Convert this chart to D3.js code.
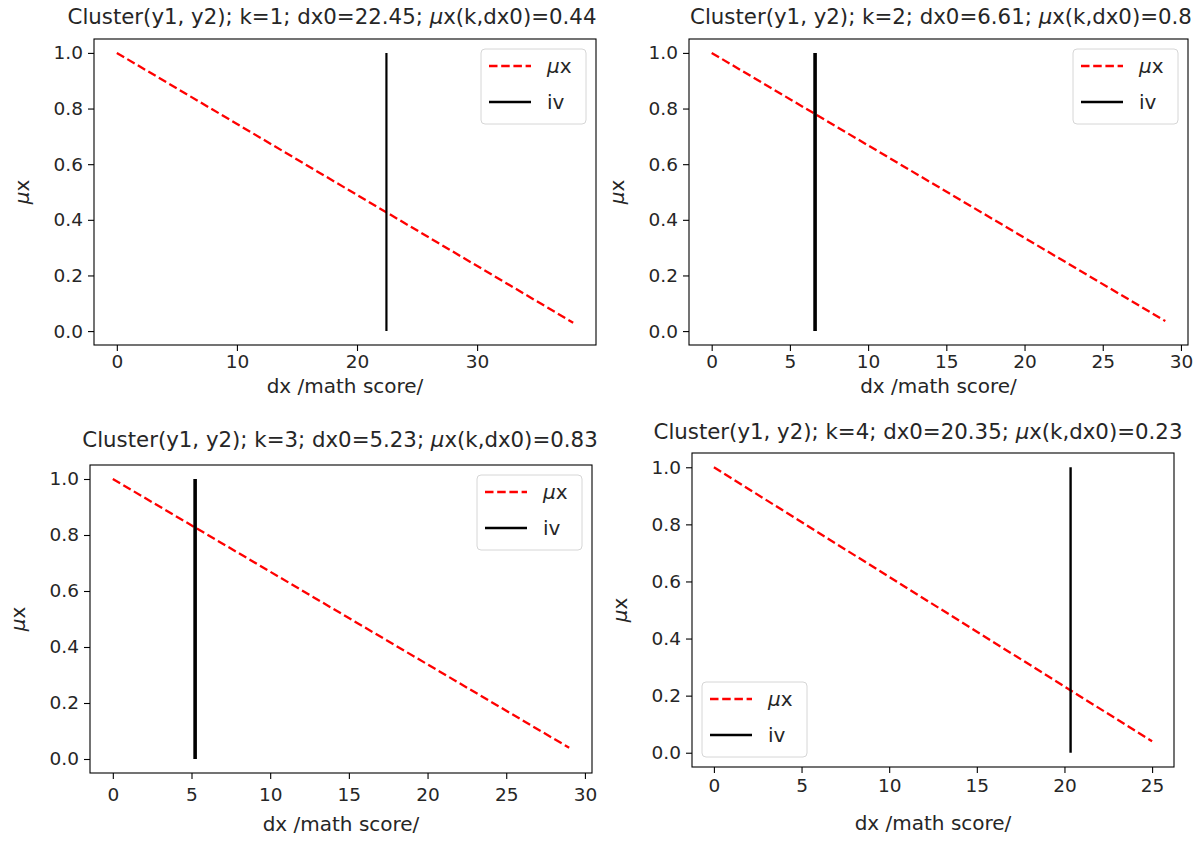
<!DOCTYPE html>
<html>
<head>
<meta charset="utf-8">
<script src="https://cdn.jsdelivr.net/npm/d3@7"></script>
<style>
  body { margin: 0; background: #fff; }
  svg text { font-family: "DejaVu Sans", sans-serif; fill: #262626; }
</style>
</head>
<body>
<div id="chart"></div>
<script>
const W = 1200, H = 843;

// Data
const clusterK = [1, 2, 3, 4];
const dx0Values = [22.45, 6.61, 5.23, 20.35];
const muAtDx0 = ['0.44', '0.8', '0.83', '0.23'];
const muLineX = [[0, 38], [0, 29], [0, 29], [0, 25]];
const muLineY = [[1, 0.03], [1, 0.036], [1, 0.04], [1, 0.04]];
const ivY = [0, 1];
const xTicks = [
    [0, 10, 20, 30],
    [0, 5, 10, 15, 20, 25, 30],
    [0, 5, 10, 15, 20, 25, 30],
    [0, 5, 10, 15, 20, 25]
];
const yTicks = [0, 0.2, 0.4, 0.6, 0.8, 1.0];
const xLabel = 'dx /math score/';

// Layout (pixel boxes of each axes frame)
const panels = [
    {left: 94,  top: 39,  right: 596,  bottom: 345, titleX: 332, titleY: 24,  tickPad: 4, xlabDy: 48, legend: 'upper right', ivWidth: 2.2},
    {left: 689, top: 39,  right: 1188, bottom: 345, titleX: 941, titleY: 24,  tickPad: 4, xlabDy: 48, legend: 'upper right', ivWidth: 3.6},
    {left: 90,  top: 465, right: 592,  bottom: 773, titleX: 340, titleY: 447, tickPad: 9, xlabDy: 58, legend: 'upper right', ivWidth: 3.6},
    {left: 692, top: 453, right: 1174, bottom: 767, titleX: 918, titleY: 439, tickPad: 6, xlabDy: 63, legend: 'lower left',  ivWidth: 2.4}
];

const tickFs = 18.5, labelFs = 20, titleFs = 21.3, legendFs = 20;

const svg = d3.select('#chart')
    .append('svg')
    .attr('width', W)
    .attr('height', H)
    .style('background', '#fff');

panels.forEach(function(p, i) {

    let xs = muLineX[i].concat([dx0Values[i]]);
    let xMin = d3.min(xs), xMax = d3.max(xs);
    let xPad = (xMax - xMin) * 0.05;

    let x = d3.scaleLinear()
        .domain([xMin - xPad, xMax + xPad])
        .range([p.left, p.right]);

    let y = d3.scaleLinear()
        .domain([-0.05, 1.05])
        .range([p.bottom, p.top]);

    let g = svg.append('g').attr('class', 'panel-' + clusterK[i]);

    // axes
    let xAxis = d3.axisBottom(x).tickValues(xTicks[i]).tickFormat(d3.format('d')).tickSize(6).tickPadding(p.tickPad);
    let yAxis = d3.axisLeft(y).tickValues(yTicks).tickFormat(d3.format('.1f')).tickSize(6).tickPadding(5);

    let gX = g.append('g')
        .attr('transform', 'translate(0,' + p.bottom + ')')
        .call(xAxis);
    let gY = g.append('g')
        .attr('transform', 'translate(' + p.left + ',0)')
        .call(yAxis);

    [gX, gY].forEach(function(a) {
        a.select('.domain').remove();
        a.selectAll('.tick line').attr('stroke', '#000').attr('stroke-width', 1.1);
        a.selectAll('.tick text')
            .style('font-size', tickFs + 'px')
            .style('font-family', '"DejaVu Sans", sans-serif')
            .attr('fill', '#262626');
    });

    // frame
    g.append('rect')
        .attr('x', p.left)
        .attr('y', p.top)
        .attr('width', p.right - p.left)
        .attr('height', p.bottom - p.top)
        .attr('fill', 'none')
        .attr('stroke', '#000')
        .attr('stroke-width', 1.1);

    // mu line
    let muPts = muLineX[i].map(function(v, j) { return [v, muLineY[i][j]]; });
    let line = d3.line()
        .x(function(d) { return x(d[0]); })
        .y(function(d) { return y(d[1]); });

    g.append('path')
        .datum(muPts)
        .attr('d', line)
        .attr('fill', 'none')
        .attr('stroke', '#ff0000')
        .attr('stroke-width', 2.3)
        .attr('stroke-dasharray', '8.5,3.7');

    // iv line
    g.append('path')
        .datum(ivY.map(function(v) { return [dx0Values[i], v]; }))
        .attr('d', line)
        .attr('fill', 'none')
        .attr('stroke', '#000')
        .attr('stroke-width', p.ivWidth);

    // title
    let title = g.append('text')
        .attr('x', p.titleX)
        .attr('y', p.titleY)
        .attr('text-anchor', 'middle')
        .style('font-size', titleFs + 'px');
    title.append('tspan').text('Cluster(y1, y2); k=' + clusterK[i] + '; dx0=' + dx0Values[i] + '; ');
    title.append('tspan').attr('font-style', 'italic').text('\u03bc');
    title.append('tspan').text('x(k,dx0)=' + muAtDx0[i]);

    // x label
    g.append('text')
        .attr('x', (p.left + p.right) / 2)
        .attr('y', p.bottom + p.xlabDy)
        .attr('text-anchor', 'middle')
        .style('font-size', labelFs + 'px')
        .text(xLabel);

    // y label
    let yl = g.append('text')
        .attr('transform', 'translate(' + (p.left - 65) + ',' + ((p.top + p.bottom) / 2) + ') rotate(-90)')
        .attr('text-anchor', 'middle')
        .style('font-size', labelFs + 'px');
    yl.append('tspan').attr('font-style', 'italic').text('\u03bc');
    yl.append('tspan').text('x');

    // legend
    let lw = 105, lh = 75, pad = 10;
    let lx = p.legend === 'upper right' ? p.right - pad - lw : p.left + pad;
    let ly = p.legend === 'upper right' ? p.top + pad : p.bottom - pad - lh;

    let leg = g.append('g').attr('transform', 'translate(' + lx + ',' + ly + ')');
    leg.append('rect')
        .attr('width', lw)
        .attr('height', lh)
        .attr('rx', 4)
        .attr('fill', 'rgba(255,255,255,0.8)')
        .attr('stroke', '#d6d6d6')
        .attr('stroke-width', 1);

    leg.append('line')
        .attr('x1', 8).attr('x2', 50).attr('y1', 17).attr('y2', 17)
        .attr('stroke', '#ff0000').attr('stroke-width', 2.3).attr('stroke-dasharray', '8.5,3.7');
    leg.append('line')
        .attr('x1', 8).attr('x2', 50).attr('y1', 53).attr('y2', 53)
        .attr('stroke', '#000').attr('stroke-width', 2.3);

    let t1 = leg.append('text').attr('x', 66).attr('y', 24).style('font-size', legendFs + 'px');
    t1.append('tspan').attr('font-style', 'italic').text('\u03bc');
    t1.append('tspan').text('x');
    leg.append('text').attr('x', 66).attr('y', 60).style('font-size', legendFs + 'px').text('iv');
});
</script>
</body>
</html>
